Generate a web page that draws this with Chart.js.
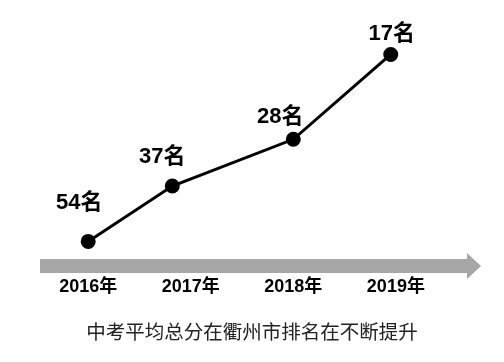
<!DOCTYPE html>
<html>
<head>
<meta charset="utf-8">
<script src="https://cdn.jsdelivr.net/npm/chart.js@4/dist/chart.umd.min.js"></script>
<style>
  html, body { margin: 0; background: #fff; }
  #wrap { width: 504px; height: 362px; }
</style>
</head>
<body>
<div id="wrap"><canvas id="rankChart"></canvas></div>
<script>
// 年份刻度
const years = [2016, 2017, 2018, 2019];
const yearLabels = ["2016年", "2017年", "2018年", "2019年"];
// 各点在时间轴上的位置（图中并非等距）
const pointYears = [2016, 2016.82, 2018, 2018.95];
// 折线高度（示意值，从图上读取）
const levels = [10, 32.5, 51.5, 86];
// 排名
const ranks = [54, 37, 28, 17];
const caption = "中考平均总分在衢州市排名在不断提升";

const cjk = "'Liberation Sans', 'Noto Sans CJK SC', sans-serif";

// 时间轴箭头、年份、排名标签、底部说明
const decorPlugin = {
  id: "decor",
  beforeDatasetsDraw(chart) {
    const { ctx, chartArea } = chart;
    const y = chartArea.bottom;
    const x0 = chartArea.left;
    const tip = chartArea.right;
    const head = 14;
    ctx.save();
    ctx.fillStyle = "#a6a6a6";
    ctx.fillRect(x0, y - 7, tip - head - x0, 14);
    ctx.beginPath();
    ctx.moveTo(tip - head, y - 13);
    ctx.lineTo(tip, y);
    ctx.lineTo(tip - head, y + 13);
    ctx.closePath();
    ctx.fill();
    ctx.restore();
  },
  afterDatasetsDraw(chart) {
    const { ctx, chartArea } = chart;
    const xScale = chart.scales.x;
    const meta = chart.getDatasetMeta(0);
    ctx.save();
    ctx.fillStyle = "#000";
    ctx.textAlign = "center";
    ctx.textBaseline = "middle";

    ctx.font = "bold 18px " + cjk;
    years.forEach(function (yr, i) {
      ctx.fillText(yearLabels[i], xScale.getPixelForValue(yr), chartArea.bottom + 21);
    });

    const offsets = [[-9, -38], [-10, -29], [-13, -22], [1, -21]];
    ctx.font = "bold 22px " + cjk;
    meta.data.forEach(function (pt, i) {
      ctx.fillText(ranks[i] + "名", pt.x + offsets[i][0], pt.y + offsets[i][1]);
    });

    ctx.font = "19.5px 'Noto Sans CJK SC', sans-serif";
    ctx.fillStyle = "#222";
    ctx.fillText(caption, 252, 332);
    ctx.restore();
  },
};

new Chart(document.getElementById("rankChart"), {
  type: "line",
  data: {
    datasets: [
      {
        data: pointYears.map((x, i) => ({ x: x, y: levels[i] })),
        borderColor: "#000",
        borderWidth: 3,
        backgroundColor: "#000",
        pointRadius: 6,
        pointHoverRadius: 6,
        tension: 0,
        clip: false,
      },
    ],
  },
  options: {
    responsive: true,
    maintainAspectRatio: false,
    animation: false,
    layout: { autoPadding: false, padding: { left: 40, right: 23, top: 20, bottom: 96 } },
    plugins: { legend: { display: false }, tooltip: { enabled: false } },
    scales: {
      x: { type: "linear", display: false, min: 2015.53, max: 2019.83 },
      y: { display: false, min: 0, max: 100 },
    },
  },
  plugins: [decorPlugin],
});
</script>
</body>
</html>
